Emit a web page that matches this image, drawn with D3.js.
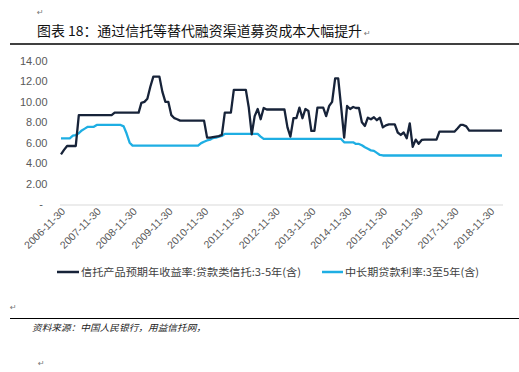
<!DOCTYPE html>
<html><head><meta charset="utf-8">
<script src="https://cdn.jsdelivr.net/npm/d3@7"></script>
<style>
html,body{margin:0;padding:0;background:#fff;}
svg{display:block;}
</style></head>
<body>
<svg id="c" width="519" height="372"></svg>
<script>
// ---- data ----
const titleText = "图表 18：通过信托等替代融资渠道募资成本大幅提升";
const sourceText = "资料来源：中国人民银行，用益信托网，";
const seriesNames = ["信托产品预期年收益率:贷款类信托:3-5年(含)", "中长期贷款利率:3至5年(含)"];
const firstMonth = "2006-11"; // monthly observations, month-end
const xTickLabels = ["2006-11-30","2007-11-30","2008-11-30","2009-11-30","2010-11-30","2011-11-30","2012-11-30","2013-11-30","2014-11-30","2015-11-30","2016-11-30","2017-11-30","2018-11-30"];
const yTicks = [0,2,4,6,8,10,12,14];
const trustYield = [
 4.86,5.3,5.68,5.68,5.68,5.68,8.7,8.7,8.7,8.7,
 8.7,8.7,8.7,8.7,8.7,8.7,8.7,8.7,8.94,8.94,
 8.94,8.94,8.94,8.94,8.94,8.94,8.94,9.9,10.0,10.3,
 11.5,12.47,12.47,12.47,11.0,10.0,10.0,8.7,8.4,8.3,
 8.16,8.16,8.16,8.16,8.16,8.16,8.16,8.16,8.16,6.5,
 6.5,6.55,6.6,6.65,6.76,8.94,8.94,8.94,11.17,11.17,
 11.17,11.17,11.17,9.5,6.82,8.6,9.3,8.3,9.4,9.25,
 9.25,9.25,9.25,9.25,9.25,9.25,7.5,6.6,8.4,8.4,
 9.43,8.4,9.3,9.1,7.15,7.15,9.43,9.43,9.43,8.6,
 9.6,10.0,12.3,12.3,9.5,6.5,9.6,9.3,9.5,9.4,
 9.4,8.0,7.64,8.45,8.3,8.5,8.2,8.45,7.5,7.7,
 7.8,7.8,7.8,7.0,6.76,7.0,6.43,7.9,5.6,6.3,
 5.9,6.27,6.3,6.3,6.3,6.3,6.3,7.08,7.08,7.08,
 7.08,7.08,7.08,7.4,7.74,7.74,7.6,7.18,7.18,7.18,
 7.18,7.18,7.18,7.18,7.18,7.18,7.18,7.18,7.18
];
const loanRate = [
 6.43,6.43,6.43,6.43,6.69,6.75,6.93,7.2,7.38,7.56,
 7.56,7.56,7.74,7.74,7.74,7.74,7.74,7.74,7.74,7.74,
 7.74,7.6,6.9,6.0,5.71,5.71,5.71,5.71,5.71,5.71,
 5.71,5.71,5.71,5.71,5.71,5.71,5.71,5.71,5.71,5.71,
 5.71,5.71,5.71,5.71,5.71,5.71,5.71,5.96,6.1,6.22,
 6.3,6.45,6.5,6.6,6.66,6.86,6.86,6.86,6.86,6.86,
 6.86,6.86,6.86,6.86,6.86,6.86,6.86,6.6,6.37,6.37,
 6.37,6.37,6.37,6.37,6.37,6.37,6.37,6.37,6.37,6.37,
 6.37,6.37,6.37,6.37,6.37,6.37,6.37,6.37,6.37,6.37,
 6.37,6.37,6.37,6.37,6.37,6.04,6.04,6.04,6.04,5.88,
 5.88,5.75,5.55,5.4,5.25,5.2,5.0,4.8,4.75,4.75,
 4.75,4.75,4.75,4.75,4.75,4.75,4.75,4.75,4.75,4.75,
 4.75,4.75,4.75,4.75,4.75,4.75,4.75,4.75,4.75,4.75,
 4.75,4.75,4.75,4.75,4.75,4.75,4.75,4.75,4.75,4.75,
 4.75,4.75,4.75,4.75,4.75,4.75,4.75,4.75,4.75
];
const colors = ["#172339", "#1eaee3"];

// ---- chart ----
const svg = d3.select("#c");
const parse = d3.utcParse("%Y-%m-%d");
const start = d3.utcParse("%Y-%m")(firstMonth);
const dates = trustYield.map((_, i) => d3.utcDay.offset(d3.utcMonth.offset(start, i + 1), -1));

const x = d3.scaleUtc().domain([dates[0], dates[dates.length - 1]]).range([61, 502]);
const y = d3.scaleLinear().domain([0, 14]).range([204, 61]);

// title
svg.append("text").attr("x", 37).attr("y", 36)
  .attr("font-family", "'Noto Sans CJK SC', sans-serif").attr("font-size", 13.5)
  .attr("fill", "#111").attr("textLength", 325).attr("lengthAdjust", "spacingAndGlyphs")
  .text(titleText);
const mark = (px, py) => svg.append("text").attr("x", px).attr("y", py)
  .attr("font-family", "DejaVu Sans").attr("font-size", 8).attr("fill", "#777").text("↵");
mark(37, 15); mark(364, 36); mark(10, 310); mark(38, 366);
svg.append("line").attr("x1", 10).attr("x2", 519).attr("y1", 44).attr("y2", 44)
  .attr("stroke", "#000").attr("stroke-width", 1.5);
svg.append("line").attr("x1", 10).attr("x2", 519).attr("y1", 318.5).attr("y2", 318.5)
  .attr("stroke", "#000").attr("stroke-width", 1.2);
svg.append("text").attr("x", 32).attr("y", 331)
  .attr("font-family", "'Noto Sans CJK SC', sans-serif").attr("font-size", 9)
  .attr("font-style", "italic").attr("fill", "#222")
  .attr("textLength", 174).attr("lengthAdjust", "spacingAndGlyphs")
  .text(sourceText);

// y axis labels
const fmt = d3.format(".2f");
svg.append("g").selectAll("text").data(yTicks).join("text")
  .attr("x", d => d === 0 ? 43 : 47.5).attr("y", d => y(d)).attr("dy", "0.36em")
  .attr("text-anchor", "end").attr("font-family", "'Liberation Sans', Arial, sans-serif")
  .attr("font-size", 11).attr("fill", "#595959")
  .text(d => d === 0 ? "-" : fmt(d));

// x axis line
svg.append("line").attr("x1", 60).attr("x2", 503).attr("y1", 205).attr("y2", 205)
  .attr("stroke", "#d9d9d9").attr("stroke-width", 1);

// x labels
svg.append("g").selectAll("text").data(xTickLabels).join("text")
  .attr("transform", d => `translate(${x(parse(d)) + 5},212) rotate(-45)`)
  .attr("text-anchor", "end").attr("font-family", "'Liberation Sans', Arial, sans-serif")
  .attr("font-size", 10.5).attr("fill", "#595959")
  .text(d => d);

// lines
const series = [trustYield, loanRate];
const line = d3.line().x((d, i) => x(dates[i])).y(d => y(d));
series.slice().reverse().forEach((s, k) => {
  const idx = series.length - 1 - k;
  svg.append("path").datum(s).attr("d", line).attr("fill", "none")
    .attr("stroke", colors[idx]).attr("stroke-width", 2.3)
    .attr("stroke-linejoin", "round");
});

// legend
const legendItems = [
  {sx: 57, ex: 79, tx: 81, tw: 220},
  {sx: 322, ex: 343, tx: 345, tw: 134}
];
legendItems.forEach((L, i) => {
  svg.append("line").attr("x1", L.sx).attr("x2", L.ex).attr("y1", 272).attr("y2", 272)
    .attr("stroke", colors[i]).attr("stroke-width", 2.5);
  svg.append("text").attr("x", L.tx).attr("y", 272).attr("dy", "0.36em")
    .attr("font-family", "'Noto Sans CJK SC', sans-serif").attr("font-size", 10.5)
    .attr("fill", "#404040").attr("textLength", L.tw).attr("lengthAdjust", "spacingAndGlyphs")
    .text(seriesNames[i]);
});
</script>
</body></html>
